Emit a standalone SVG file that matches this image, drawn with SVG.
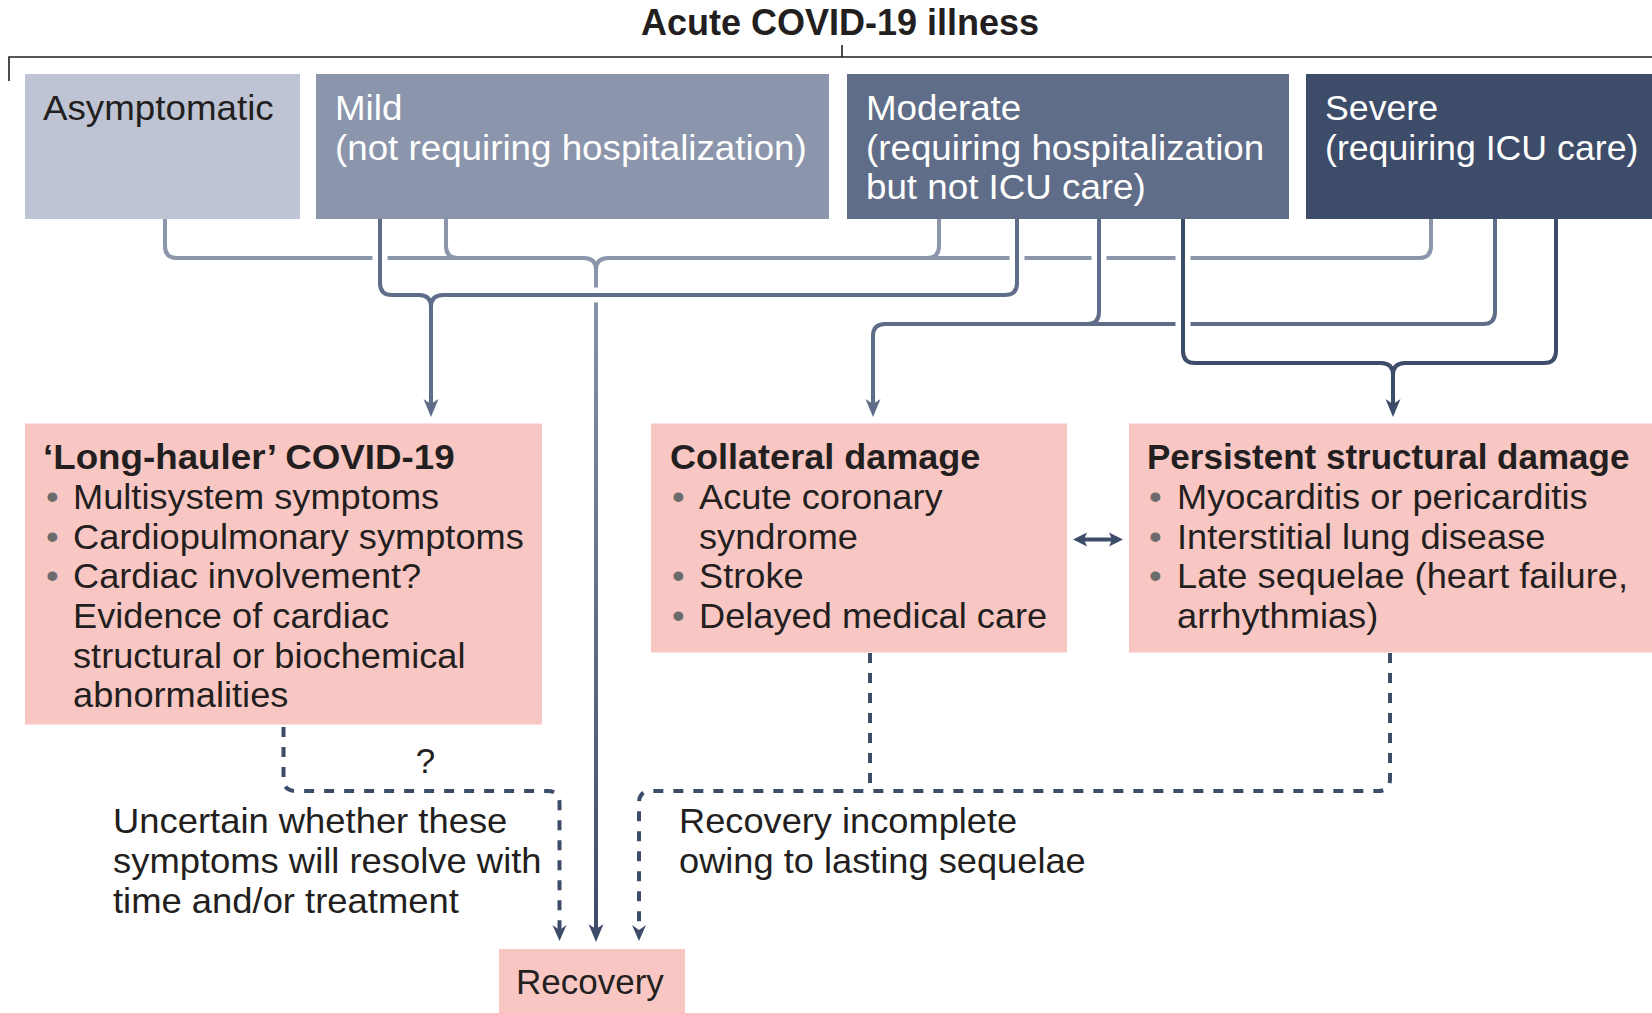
<svg xmlns="http://www.w3.org/2000/svg" width="1652" height="1013" viewBox="0 0 1652 1013">
<style>
  text { font-family: "Liberation Sans", Arial, sans-serif; font-size: 35px; fill: #231f20; }
  .b { font-weight: bold; }
  .w { fill: #ffffff; }
  .bul { fill: #6b6b6b; }
  .ln { fill: none; stroke-width: 4; }
  .cA { stroke: #8b95ab; }
  .cB { stroke: #5f6d88; }
  .cD { stroke: #3d4c69; }
  .gap { fill: none; stroke: #ffffff; stroke-width: 15; }
  .dash { fill: none; stroke: #3d4c69; stroke-width: 4; stroke-dasharray: 10 10; }
  .pink { fill: #f9c7c3; }
</style>
<defs>
  <marker id="arrB" markerUnits="userSpaceOnUse" viewBox="-19 -8 20 16" markerWidth="20" markerHeight="16" refX="-12" refY="0" orient="auto">
    <path d="M0,0 L-18,-7.5 L-13,0 L-18,7.5 Z" fill="#5f6d88"/>
  </marker>
  <marker id="arrD" markerUnits="userSpaceOnUse" viewBox="-19 -8 20 16" markerWidth="20" markerHeight="16" refX="-12" refY="0" orient="auto">
    <path d="M0,0 L-18,-7.5 L-13,0 L-18,7.5 Z" fill="#3d4c69"/>
  </marker>
  <marker id="arrS" markerUnits="userSpaceOnUse" viewBox="-17 -8 18 16" markerWidth="18" markerHeight="16" refX="-10" refY="0" orient="auto">
    <path d="M0,0 L-16,-7 L-11,0 L-16,7 Z" fill="#3d4c69"/>
  </marker>
  <linearGradient id="recGrad" gradientUnits="userSpaceOnUse" x1="0" y1="270" x2="0" y2="930">
    <stop offset="0" stop-color="#8b95ab"/>
    <stop offset="1" stop-color="#3d4c69"/>
  </linearGradient>
</defs>

<g id="title">
  <path d="M9 81 V57 H1652 M842 45 V57" fill="none" stroke="#231f20" stroke-width="1.6"/>
  <text class="b" x="840" y="35" text-anchor="middle" style="font-size:36px">Acute COVID-19 illness</text>
</g>

<g id="asymptomatic">
  <rect x="25" y="74" width="275" height="145" fill="#bec4d4"/>
  <text transform="matrix(1.05 0 0 1 -2.15 0)" x="43" y="120">Asymptomatic</text>
</g>
<g id="mild">
  <rect x="316" y="74" width="513" height="145" fill="#8b95ab"/>
  <text class="w" transform="matrix(1.05 0 0 1 -16.75 0)"><tspan x="335" y="120">Mild</tspan><tspan x="335" y="160">(not requiring hospitalization)</tspan></text>
</g>
<g id="moderate">
  <rect x="847" y="74" width="442" height="145" fill="#5f6d88"/>
  <text class="w" transform="matrix(1.05 0 0 1 -43.3 0)"><tspan x="866" y="120">Moderate</tspan><tspan x="866" y="160">(requiring hospitalization</tspan><tspan x="866" y="199">but not ICU care)</tspan></text>
</g>
<g id="severe">
  <rect x="1306" y="74" width="346" height="145" fill="#3d4c69"/>
  <text class="w" transform="matrix(1.02 0 0 1 -26.5 0)"><tspan x="1325" y="120">Severe</tspan><tspan x="1325" y="160">(requiring ICU care)</tspan></text>
</g>

<g id="connectors">
  <!-- A: to recovery -->
  <path class="ln cA" d="M165 219 V246 Q165 258 177 258 H584 Q596 258 596 270"/>
  <path class="ln cA" d="M1431 219 V246 Q1431 258 1419 258 H608 Q596 258 596 270"/>
  <path class="ln cA" d="M446 219 V246 Q446 258 458 258"/>
  <path class="ln cA" d="M939 219 V246 Q939 258 927 258"/>
  <path class="ln" stroke="url(#recGrad)" d="M596 268 V930" marker-end="url(#arrD)"/>
  <!-- B: to long-hauler -->
  <path class="gap" d="M380 250 V266 M1017 250 V266 M588 295 H604"/>
  <path class="ln cB" d="M380 219 V283 Q380 295 392 295 H419 Q431 295 431 307 V405" marker-end="url(#arrB)"/>
  <path class="ln cB" d="M1017 219 V283 Q1017 295 1005 295 H443 Q431 295 431 307"/>
  <!-- C: to collateral -->
  <path class="gap" d="M1099 250 V266"/>
  <path class="ln cB" d="M1495 219 V312 Q1495 324 1483 324 H885 Q873 324 873 336 V405" marker-end="url(#arrB)"/>
  <path class="ln cB" d="M1099 219 V312 Q1099 324 1087 324"/>
  <!-- D: to persistent -->
  <path class="gap" d="M1183 250 V266 M1183 316 V332"/>
  <path class="ln cD" d="M1183 219 V351 Q1183 363 1195 363 H1381 Q1393 363 1393 375 V405" marker-end="url(#arrD)"/>
  <path class="ln cD" d="M1556 219 V351 Q1556 363 1544 363 H1405 Q1393 363 1393 375"/>
  <!-- double arrow -->
  <path class="ln cD" d="M1082 539.5 H1114"/>
  <path d="M1073 539.5 L1087 532.5 L1084 539.5 L1087 546.5 Z M1123 539.5 L1109 532.5 L1112 539.5 L1109 546.5 Z" fill="#3d4c69"/>
  <!-- dashed to recovery -->
  <path class="dash" d="M283.5 727 V779 Q283.5 791 295.5 791 H547.5 Q559.5 791 559.5 803 V931" marker-end="url(#arrS)"/>
  <path class="dash" d="M1390 653 V779 Q1390 791 1378 791 H651 Q639 791 639 803 V931" marker-end="url(#arrS)"/>
  <path class="dash" d="M870 653 V791"/>
</g>

<g id="long-hauler">
  <rect class="pink" x="25" y="423.5" width="517" height="301"/>
  <text class="b" transform="matrix(1.05 0 0 1 -2.15 0)" x="43" y="469">‘Long-hauler’ COVID-19</text>
  <text transform="matrix(1.035 0 0 1 -2.555 0)"><tspan class="bul" x="47" y="509">•</tspan><tspan x="73" y="509">Multisystem symptoms</tspan><tspan class="bul" x="47" y="549">•</tspan><tspan x="73" y="549">Cardiopulmonary symptoms</tspan><tspan class="bul" x="47" y="588">•</tspan><tspan x="73" y="588">Cardiac involvement?</tspan><tspan x="73" y="628">Evidence of cardiac</tspan><tspan x="73" y="668">structural or biochemical</tspan><tspan x="73" y="707.5">abnormalities</tspan></text>
</g>

<g id="collateral">
  <rect class="pink" x="651" y="423.5" width="416" height="229"/>
  <text class="b" transform="matrix(1.03 0 0 1 -20.1 0)" x="670" y="469">Collateral damage</text>
  <text transform="matrix(1.035 0 0 1 -24.465 0)"><tspan class="bul" x="673" y="509">•</tspan><tspan x="699" y="509">Acute coronary</tspan><tspan x="699" y="549">syndrome</tspan><tspan class="bul" x="673" y="588">•</tspan><tspan x="699" y="588">Stroke</tspan><tspan class="bul" x="673" y="628">•</tspan><tspan x="699" y="628">Delayed medical care</tspan></text>
</g>

<g id="persistent">
  <rect class="pink" x="1129" y="423.5" width="523" height="229"/>
  <text class="b" x="1147" y="469">Persistent structural damage</text>
  <text transform="matrix(1.035 0 0 1 -41.195 0)"><tspan class="bul" x="1150" y="509">•</tspan><tspan x="1177" y="509">Myocarditis or pericarditis</tspan><tspan class="bul" x="1150" y="549">•</tspan><tspan x="1177" y="549">Interstitial lung disease</tspan><tspan class="bul" x="1150" y="588">•</tspan><tspan x="1177" y="588">Late sequelae (heart failure,</tspan><tspan x="1177" y="628">arrhythmias)</tspan></text>
</g>

<g id="recovery">
  <rect class="pink" x="499" y="949" width="186" height="64"/>
  <text x="516" y="994">Recovery</text>
</g>

<g id="labels">
  <text x="425.5" y="773" text-anchor="middle">?</text>
  <text transform="matrix(1.04 0 0 1 -4.52 0)"><tspan x="113" y="833">Uncertain whether these</tspan><tspan x="113" y="873">symptoms will resolve with</tspan><tspan x="113" y="913">time and/or treatment</tspan></text>
  <text transform="matrix(1.035 0 0 1 -23.765 0)"><tspan x="679" y="833">Recovery incomplete</tspan><tspan x="679" y="873">owing to lasting sequelae</tspan></text>
</g>
</svg>
